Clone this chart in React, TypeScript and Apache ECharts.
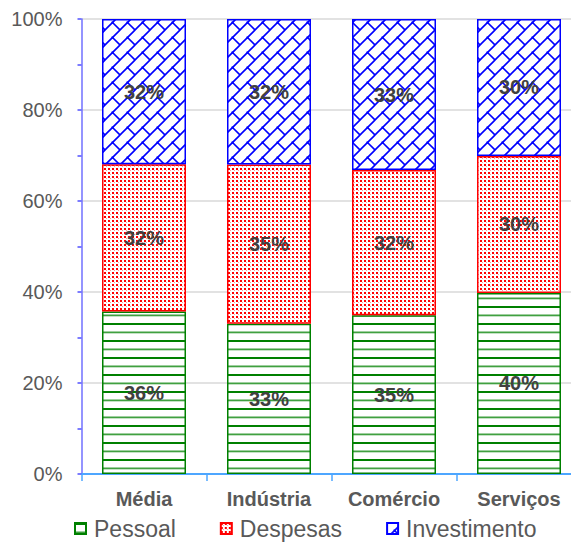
import React, { useEffect, useRef } from "react";
import * as echarts from "echarts";

const categories = ["Média", "Indústria", "Comércio", "Serviços"];
const seriesNames = ["Pessoal", "Despesas", "Investimento"];
const pessoal = [35.7, 33.0, 34.9, 39.8];
const despesas = [32.4, 35.0, 31.9, 30.1];
const investimento = [31.9, 32.0, 33.2, 30.1];
const yMin = 0;
const yMax = 100;
const yStep = 20;

const FONT = "'Liberation Sans', Arial, Helvetica, sans-serif";

function makeCanvas(w: number, h: number, draw: (ctx: CanvasRenderingContext2D) => void) {
  const c = document.createElement("canvas");
  c.width = w;
  c.height = h;
  const ctx = c.getContext("2d") as CanvasRenderingContext2D;
  ctx.fillStyle = "#ffffff";
  ctx.fillRect(0, 0, w, h);
  draw(ctx);
  return { image: c, repeat: "repeat", imageWidth: w, imageHeight: h } as any;
}

export default function App() {
  const ref = useRef<HTMLDivElement>(null);
  useEffect(() => {
    if (!ref.current) return;
    const chart = echarts.init(ref.current, null, { renderer: "svg" });

    const greenPat = makeCanvas(17, 17, (ctx) => {
      ctx.fillStyle = "#008000";
      ctx.fillRect(0, 0, 17, 2);
      ctx.fillStyle = "rgba(0,128,0,0.75)";
      ctx.fillRect(0, 8.5, 17, 1.8);
    });
    const redPat = makeCanvas(4, 4, (ctx) => {
      ctx.fillStyle = "#ff0000";
      ctx.fillRect(0, 0, 2, 2);
      ctx.fillStyle = "rgba(255,0,0,0.4)";
      ctx.fillRect(2, 2, 1, 1);
    });
    const bluePat = makeCanvas(15, 15, (ctx) => {
      ctx.strokeStyle = "#0000ff";
      ctx.lineWidth = 1.6;
      ctx.beginPath();
      ctx.moveTo(-2, 17);
      ctx.lineTo(17, -2);
      ctx.moveTo(-2, 2);
      ctx.lineTo(2, -2);
      ctx.moveTo(13, 17);
      ctx.lineTo(17, 13);
      ctx.moveTo(7.5, 7.5);
      ctx.lineTo(16, 16);
      ctx.stroke();
      ctx.fillStyle = "#0000ff";
      ctx.fillRect(6.5, 6.5, 2, 2);
    });

    const pats = [greenPat, redPat, bluePat];
    const borders = ["#008000", "#ff0000", "#0000ff"];
    const datas = [pessoal, despesas, investimento];

    chart.setOption({
      animation: false,
      textStyle: { fontFamily: FONT },
      grid: { left: 81.5, top: 19, width: 500, height: 455, containLabel: false },
      legend: {
        left: 74,
        top: 517,
        padding: 0,
        itemWidth: 11,
        itemHeight: 11,
        itemGap: 44,
        icon: "rect",
        data: seriesNames,
        textStyle: { fontSize: 23, color: "#595959", fontFamily: FONT, padding: [0, 0, 0, 3] },
      },
      xAxis: {
        type: "category",
        data: categories,
        axisLine: { show: true, lineStyle: { color: "#4da6ff", width: 2 } },
        axisTick: { show: true, length: 7, lineStyle: { color: "#4da6ff", width: 1.5 } },
        axisLabel: { fontSize: 20, fontWeight: "bold", color: "#595959", margin: 15, fontFamily: FONT },
        splitLine: { show: false },
      },
      yAxis: {
        type: "value",
        min: yMin,
        max: yMax,
        interval: yStep,
        axisLine: { show: true, lineStyle: { color: "#7070ff", width: 1.5 } },
        axisTick: { show: true, length: 4, lineStyle: { color: "#5050ff", width: 1.5 } },
        minorTick: { show: true, splitNumber: 2, length: 4, lineStyle: { color: "#5050ff", width: 1.5 } },
        axisLabel: { fontSize: 20, color: "#595959", margin: 19, formatter: "{value}%", fontFamily: FONT },
        splitLine: { show: true, lineStyle: { color: "#d9d9d9", width: 1.5 } },
      },
      series: seriesNames.map((name, i) => ({
        name,
        type: "bar",
        stack: "total",
        barWidth: 84,
        data: datas[i],
        itemStyle: { color: pats[i], borderColor: borders[i], borderWidth: 1.5 },
        label: {
          show: true,
          position: "inside",
          formatter: (p: any) => Math.round(p.value) + "%",
          fontSize: 20,
          fontWeight: "bold",
          color: "#404040",
          fontFamily: FONT,
        },
      })),
    });
    return () => chart.dispose();
  }, []);

  return (
    <div style={{ position: "fixed", left: 0, top: 0, width: 571, height: 543, overflow: "hidden", background: "#fff" }}>
      <div ref={ref} style={{ width: 600, height: 543 }} />
    </div>
  );
}
